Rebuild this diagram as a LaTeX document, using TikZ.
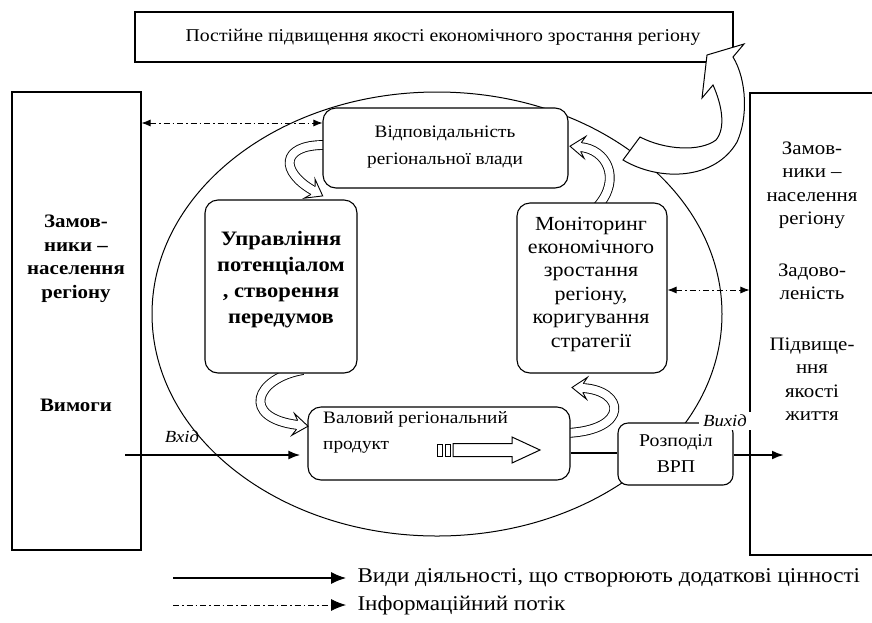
\documentclass[tikz,border=0pt]{standalone}
\usepackage{fontspec}
\setmainfont{Liberation Serif}[FakeStretch=1.1]
\usetikzlibrary{arrows.meta,shapes.geometric}
\newcommand{\myfs}[2]{\fontsize{#1}{#2}\selectfont}
\begin{document}
\begin{tikzpicture}[x=1pt,y=-1pt,
  sq/.style={draw, fill=white, line width=1.1pt, inner sep=0pt},
  rbox/.style={draw, fill=white, line width=1.1pt, rounded corners=13pt, inner sep=0pt},
  txt/.style={align=center, inner sep=0pt},
  dd/.style={line width=0.8pt, dash pattern=on 6pt off 3pt on 1.5pt off 3pt},
  band/.style={draw=black, line width=0.9pt, double=white, double distance=8pt},
  flow/.style={line width=2.2pt, -{Latex[length=12pt,width=9pt]}},
  twotip/.style={{Latex[length=9pt,width=7pt]}-{Latex[length=9pt,width=7pt]}},
  bhead/.pic={
    \fill[white] (-11,4.4) -- (-15,11) -- (0,0) -- (-15,-11) -- (-11,-4.4) -- cycle;
    \draw[line width=0.9pt, line join=miter] (-11,4.4) -- (-15,11) -- (0,0) -- (-15,-11) -- (-11,-4.4);
  }
]
\useasboundingbox (0,0) rectangle (872,622);

\node[draw, ellipse, line width=1pt, minimum width=570pt, minimum height=444pt, inner sep=0pt] (oval) at (437,314) {};

% shafts of curved arrows
\draw[band] (324,145) .. controls (280,145) and (280,172) .. (314,191);
\draw[band] (598,206) .. controls (622,178) and (606,149) .. (580,147);
\draw[band] (303,370) .. controls (255,378) and (240,418) .. (298,425);
\draw[band] (567,433) .. controls (630,430) and (625,390) .. (582,388);

% boxes
\node[sq, minimum width=598pt, minimum height=50pt] (goal) at (434,37) {};
\node[txt, font=\myfs{18}{22}] (goaltxt) at (443,37) {Постійне підвищення якості економічного зростання регіону};
\node[sq, minimum width=129pt, minimum height=458pt] (left) at (76.5,321) {};
\node[sq, minimum width=140pt, minimum height=462pt] (right) at (820,324) {};
\node[rbox, minimum width=245pt, minimum height=80pt] (resp) at (445.5,148) {};
\node[rbox, minimum width=152pt, minimum height=173pt] (mgmt) at (281,286.5) {};
\node[rbox, minimum width=150pt, minimum height=170pt] (monit) at (592,288) {};
\node[rbox, minimum width=262pt, minimum height=73pt] (grp) at (439,443.5) {};
\node[rbox, rounded corners=10pt, minimum width=115pt, minimum height=62pt] (distr) at (675.5,454) {};

\node[txt, font=\myfs{17.5}{27}] (resptxt) at (445,147) {Відповідальність\\регіональної влади};
\node[txt, font=\bfseries\myfs{20.5}{26}] (mgmttxt) at (281,280) {Управління\\потенціалом\\, створення\\передумов};
\node[txt, font=\myfs{20}{23.4}] (monittxt) at (591,284) {Моніторинг\\економічного\\зростання\\регіону,\\коригування\\стратегії};
\node[txt, font=\myfs{17.5}{26}, anchor=north west, align=left] (grptxt) at (323,411) {Валовий регіональний\\продукт};
\node[txt, font=\myfs{18}{26}] (distrtxt) at (676,454) {Розподіл\\ВРП};
\node[txt, font=\bfseries\myfs{19}{23.5}] (lt1) at (76,259) {Замов-\\ники –\\населення\\регіону};
\node[txt, font=\bfseries\myfs{19}{23}] (lt2) at (76,405) {Вимоги};
\node[txt, font=\myfs{19}{23.5}] (rt1) at (812,185) {Замов-\\ники –\\населення\\регіону};
\node[txt, font=\myfs{19}{23.5}] (rt2) at (812,282) {Задово-\\леність};
\node[txt, font=\myfs{19}{23.5}] (rt3) at (812,379) {Підвище-\\ння\\якості\\життя};

% big curved arrow to the top box
\filldraw[fill=white, line width=1pt, line join=miter] (623,160) .. controls (660,182) and (715,180) .. (737,142) .. controls (748,118) and (747,80) .. (733,57) -- (744,44) -- (707,55) -- (702,98) -- (713,85) .. controls (722,105) and (726,128) .. (716,140) .. controls (700,152) and (665,150) .. (640,137) -- cycle;

% heads of curved arrows
\pic[rotate=-29.2] at (322.7,195.9) {bhead};
\pic[rotate=175.6] at (570,146.2) {bhead};
\pic[rotate=-6.9] at (308,426.2) {bhead};
\pic[rotate=177.3] at (572,387.5) {bhead};

% block arrow inside GRP box
\draw[line width=0.8pt] (437,444) rectangle (442,456);
\draw[line width=0.8pt] (445,444) rectangle (450,456);
\draw[line width=1pt, line join=miter] (453,443.5) -- (512,443.5) -- (512,437) -- (540,450) -- (512,463) -- (512,456.5) -- (453,456.5) -- cycle;

% connectors
\draw[dd, twotip] (left.east |- 0,123) -- (resp.west |- 0,123);
\draw[dd, twotip] (monit.east |- 0,290) -- (right.west |- 0,290);
\coordinate (inStart) at (125,455);
\draw[flow, shorten >=7pt] (inStart) -- (grp.west |- inStart);
\coordinate (outEnd) at (784,455);
\draw[flow] (distr.east |- outEnd) -- (outEnd);
\draw[line width=1.2pt] (grp.east |- 0,453) -- (distr.west |- 0,453);

\node[font=\itshape\myfs{17}{20}] (inlbl) at (182,437) {Вхід};
\node[font=\itshape\myfs{17}{20}, fill=white, inner xsep=4pt, inner ysep=3pt] (outlbl) at (725,421) {Вихід};

% legend
\coordinate (la1) at (173,578); \coordinate (la2) at (346,578);
\draw[line width=1.1pt, -{Latex[length=15pt,width=12pt]}] (la1) -- (la2);
\node[anchor=west, font=\myfs{21}{24}] (lg1) at (354,578) {Види діяльності, що створюють додаткові цінності};
\coordinate (lb1) at (173,605); \coordinate (lb2) at (346,605);
\draw[dd, -{Latex[length=15pt,width=12pt]}] (lb1) -- (lb2);
\node[anchor=west, font=\myfs{21}{24}] (lg2) at (354,605) {Інформаційний потік};
\end{tikzpicture}
\end{document}
